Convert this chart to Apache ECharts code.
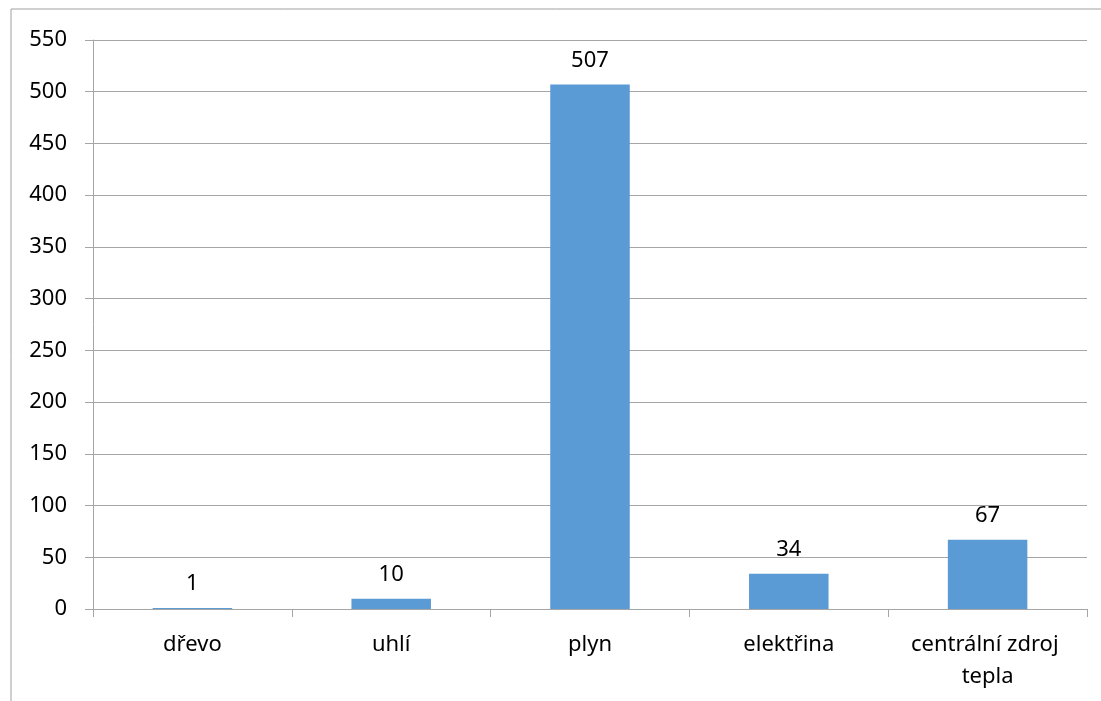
<!DOCTYPE html>
<html>
<head>
<meta charset="utf-8">
<script src="https://cdn.jsdelivr.net/npm/echarts@6/dist/echarts.min.js"></script>
<style>
  html, body { margin: 0; padding: 0; background: #ffffff; }
  #chart { width: 1101px; height: 701px; }
</style>
</head>
<body>
<div id="chart"></div>
<script>
// Heating sources and counts
const categories = ['dřevo', 'uhlí', 'plyn', 'elektřina', 'centrální zdroj tepla'];
const counts = [1, 10, 507, 34, 67];
const yTicks = { min: 0, max: 550, interval: 50 };

const chart = echarts.init(document.getElementById('chart'), null, { renderer: 'canvas' });
const font = 'Noto Sans, sans-serif';
const grey = '#a6a6a6';

chart.setOption({
  animation: false,
  backgroundColor: '#ffffff',
  graphic: [{
    type: 'rect',
    shape: { x: 11, y: 9, width: 1200, height: 800 },
    style: { fill: 'none', stroke: '#a0a0a0', lineWidth: 1 },
    silent: true
  }],
  grid: { left: 93, right: 14, top: 40, bottom: 92, containLabel: false },
  xAxis: {
    type: 'category',
    data: categories,
    axisLine: { show: true, lineStyle: { color: grey, width: 1 } },
    axisTick: { show: true, length: 8, alignWithLabel: false, lineStyle: { color: grey } },
    axisLabel: {
      color: '#000000', fontFamily: font, fontSize: 22, margin: 20,
      lineHeight: 32, width: 185, overflow: 'break', interval: 0
    }
  },
  yAxis: {
    type: 'value',
    min: yTicks.min, max: yTicks.max, interval: yTicks.interval,
    axisLine: { show: true, lineStyle: { color: grey, width: 1 } },
    axisTick: { show: true, length: 8, lineStyle: { color: grey } },
    splitLine: { show: true, lineStyle: { color: grey, width: 1 } },
    axisLabel: { color: '#000000', fontFamily: font, fontSize: 22, margin: 26 }
  },
  series: [{
    type: 'bar',
    data: counts,
    barWidth: '40%',
    itemStyle: { color: '#5b9bd5' },
    label: {
      show: true, position: 'top', distance: 13,
      color: '#000000', fontFamily: font, fontSize: 22
    }
  }]
});
</script>
</body>
</html>
